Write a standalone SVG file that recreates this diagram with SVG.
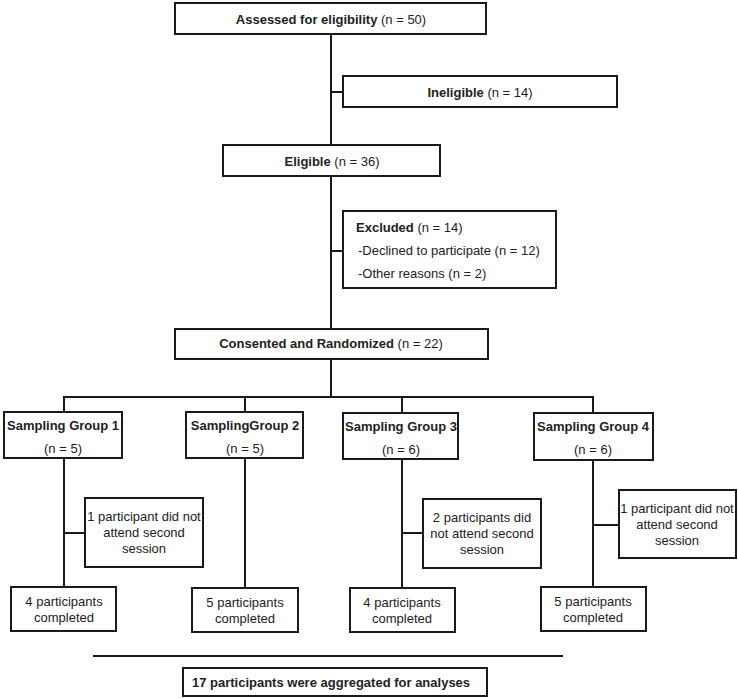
<svg xmlns="http://www.w3.org/2000/svg" width="738" height="699" viewBox="0 0 738 699">
<style>
.box{fill:#fff;stroke:#1a1a1a;stroke-width:2}
.ln{fill:none;stroke:#1a1a1a;stroke-width:2}
text{font-family:"Liberation Sans",Arial,sans-serif;font-size:13px;fill:#222}
.c{text-anchor:middle}
.b{font-weight:bold}
</style>
<rect width="738" height="699" fill="#fff"/>
<g id="connectors">
<path class="ln" d="M331 34V328"/>
<path class="ln" d="M331 92H343"/>
<path class="ln" d="M331 251H343"/>
<path class="ln" d="M331 359V397"/>
<path class="ln" d="M64 413V397H593V413"/>
<path class="ln" d="M245 397V412"/>
<path class="ln" d="M402 397V413"/>
<path class="ln" d="M64 458V587"/>
<path class="ln" d="M64 533H85"/>
<path class="ln" d="M245 458V588"/>
<path class="ln" d="M402 459V588"/>
<path class="ln" d="M402 533H423"/>
<path class="ln" d="M593 460V587"/>
<path class="ln" d="M593 525H619"/>
<path class="ln" d="M93 656H563"/>
</g>
<g id="assessed">
<rect class="box" x="175" y="3" width="311" height="31"/>
<text class="c" x="331" y="24"><tspan class="b">Assessed for eligibility</tspan> (n = 50)</text>
</g>
<g id="ineligible">
<rect class="box" x="343" y="76" width="274" height="31"/>
<text class="c" x="480" y="97"><tspan class="b">Ineligible</tspan> (n = 14)</text>
</g>
<g id="eligible">
<rect class="box" x="223" y="145" width="217" height="31"/>
<text class="c" x="332" y="166"><tspan class="b">Eligible</tspan> (n = 36)</text>
</g>
<g id="excluded">
<rect class="box" x="343" y="211" width="213" height="77"/>
<text x="356" y="232"><tspan class="b">Excluded</tspan> (n = 14)</text>
<text x="358" y="255">-Declined to participate (n = 12)</text>
<text x="358" y="278">-Other reasons (n = 2)</text>
</g>
<g id="consented">
<rect class="box" x="175" y="329" width="313" height="30"/>
<text class="c" x="331" y="348"><tspan class="b">Consented and Randomized</tspan> (n = 22)</text>
</g>
<g id="group1">
<rect class="box" x="4" y="412" width="118" height="46"/>
<text class="c b" x="63" y="430">Sampling Group 1</text>
<text class="c" x="63" y="453">(n = 5)</text>
</g>
<g id="group2">
<rect class="box" x="186" y="412" width="117" height="46"/>
<text class="c b" x="245" y="430">SamplingGroup 2</text>
<text class="c" x="245" y="453">(n = 5)</text>
</g>
<g id="group3">
<rect class="box" x="343" y="413" width="115" height="46"/>
<text class="c b" x="401" y="431">Sampling Group 3</text>
<text class="c" x="401" y="454">(n = 6)</text>
</g>
<g id="group4">
<rect class="box" x="534" y="413" width="119" height="47"/>
<text class="c b" x="593" y="431">Sampling Group 4</text>
<text class="c" x="593" y="454">(n = 6)</text>
</g>
<g id="dropout1">
<rect class="box" x="85" y="498" width="118" height="69"/>
<text class="c" x="144" y="521">1 participant did not</text>
<text class="c" x="144" y="537">attend second</text>
<text class="c" x="144" y="553">session</text>
</g>
<g id="dropout3">
<rect class="box" x="423" y="499" width="118" height="69"/>
<text class="c" x="482" y="522">2 participants did</text>
<text class="c" x="482" y="538">not attend second</text>
<text class="c" x="482" y="554">session</text>
</g>
<g id="dropout4">
<rect class="box" x="619" y="490" width="117" height="68"/>
<text class="c" x="677" y="513">1 participant did not</text>
<text class="c" x="677" y="529">attend second</text>
<text class="c" x="677" y="545">session</text>
</g>
<g id="completed1">
<rect class="box" x="11" y="587" width="105" height="44"/>
<text class="c" x="64" y="606">4 participants</text>
<text class="c" x="64" y="622">completed</text>
</g>
<g id="completed2">
<rect class="box" x="192" y="588" width="106" height="44"/>
<text class="c" x="245" y="607">5 participants</text>
<text class="c" x="245" y="623">completed</text>
</g>
<g id="completed3">
<rect class="box" x="350" y="588" width="105" height="44"/>
<text class="c" x="402" y="607">4 participants</text>
<text class="c" x="402" y="623">completed</text>
</g>
<g id="completed4">
<rect class="box" x="541" y="587" width="105" height="44"/>
<text class="c" x="593" y="606">5 participants</text>
<text class="c" x="593" y="622">completed</text>
</g>
<g id="aggregated">
<rect class="box" x="183" y="668" width="304" height="28"/>
<text class="c b" x="331" y="687">17 participants were aggregated for analyses</text>
</g>
</svg>
